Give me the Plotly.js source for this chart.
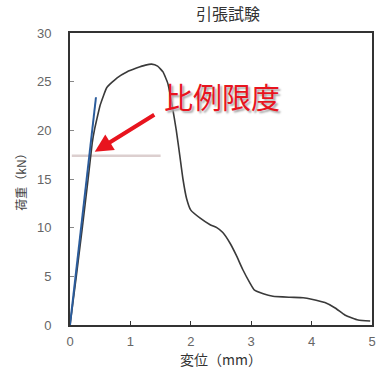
<!DOCTYPE html>
<html><head><meta charset="utf-8">
<script src="https://cdn.plot.ly/plotly-3.0.1.min.js"></script>
<style>html,body{margin:0;padding:0;background:#fff;}#chart{width:380px;height:369px;}</style>
</head><body><div id="chart"></div>
<script>
const dispX = [0,0.1,0.2,0.3,0.37,0.41,0.45,0.5,0.61,0.78,0.94,1.1,1.25,1.35,1.45,1.54,1.62,1.69,1.76,1.82,1.87,1.93,2.0,2.15,2.32,2.43,2.53,2.65,2.75,2.86,2.98,3.05,3.2,3.36,3.64,3.86,4.0,4.22,4.39,4.55,4.67,4.77,4.97];
const loadY = [0,4.8,9.8,15,18.8,20.2,21.3,22.6,24.4,25.4,26.0,26.4,26.7,26.8,26.6,26.0,24.8,22.6,20.0,17.3,15.0,13.0,11.8,11.0,10.3,10.0,9.5,8.4,7.2,5.7,4.3,3.6,3.2,2.95,2.85,2.8,2.65,2.3,1.75,1.03,0.72,0.51,0.41];
const elasticX = [0,0.43];
const elasticY = [0,23.4];
const limitX = [0.03,1.5];
const limitY = [17.4,17.4];
const arrowHead = [0.41,17.8];
const arrowTail = [1.42,21.7];
const labelPos = [2.52,23.5];
const xTicks = [0,1,2,3,4,5];
const yTicks = [0,5,10,15,20,25,30];

const traces = [
  {x: limitX, y: limitY, mode:'lines', line:{color:'#dccfcf', width:2.5}, hoverinfo:'skip'},
  {x: dispX, y: loadY, mode:'lines', line:{color:'#3a3a3a', width:1.6, shape:'spline', smoothing:0.4}},
  {x: elasticX, y: elasticY, mode:'lines', line:{color:'#2b5c9c', width:2}}
];
const layout = {
  width:380, height:369,
  margin:{l:70, r:8, t:33, b:44},
  paper_bgcolor:'#fff', plot_bgcolor:'#fff',
  showlegend:false,
  font:{family:'Noto Sans CJK JP, Liberation Sans, sans-serif', color:'#555'},
  title:{text:'引張試験', font:{size:16, color:'#333'}, xref:'container', x:0.6, xanchor:'center', yref:'container', y:0.96, yanchor:'middle'},
  xaxis:{range:[0,5], tickvals:xTicks, ticks:'inside', ticklen:4, tickcolor:'#333', ticklabelstandoff:3,
    showline:true, mirror:true, linecolor:'#333', linewidth:2, showgrid:false, zeroline:false,
    tickfont:{family:'Liberation Sans, Arial, sans-serif', size:13, color:'#666'},
    title:{text:'変位（mm）', font:{size:14, color:'#333'}, standoff:3}},
  yaxis:{range:[0,30], tickvals:yTicks, ticks:'inside', ticklen:4, tickcolor:'#888', ticklabelstandoff:14,
    showline:true, mirror:true, linecolor:'#333', linewidth:2, showgrid:false, zeroline:false,
    tickfont:{family:'Liberation Sans, Arial, sans-serif', size:13, color:'#666'},
    title:{text:'荷重（kN）', font:{size:12, color:'#444'}, standoff:8}},
  annotations:[
    {x:arrowHead[0], y:arrowHead[1], ax:arrowTail[0], ay:arrowTail[1], xref:'x', yref:'y', axref:'x', ayref:'y',
     showarrow:true, arrowhead:2, arrowsize:0.9, arrowwidth:4, arrowcolor:'#e8141e', text:''},
    {x:labelPos[0], y:labelPos[1], xref:'x', yref:'y', showarrow:false, text:'比例限度',
     font:{size:29, color:'#e8141e', shadow:'2px 2px 2px #aaa'}}
  ]
};
Plotly.newPlot('chart', traces, layout, {displayModeBar:false, staticPlot:true});
</script></body></html>
